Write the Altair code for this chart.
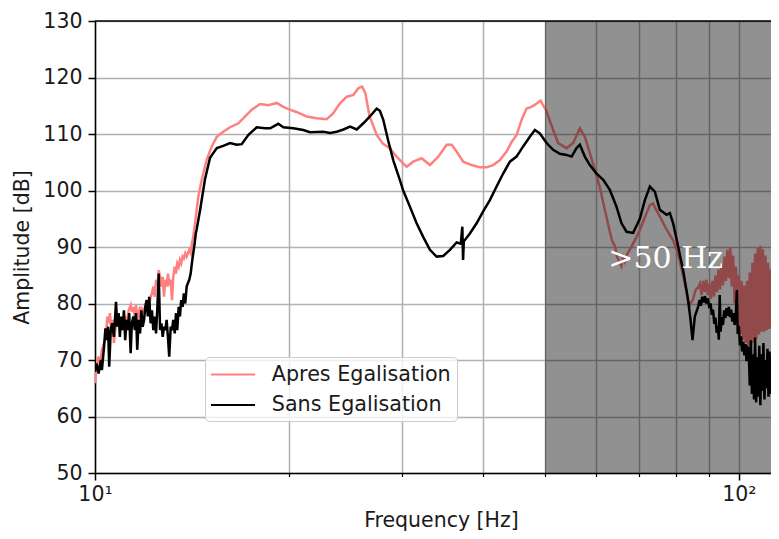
import altair as alt
import pandas as pd

# ---------------- data (Hz, dB) ----------------
sans_low = [
    (10.00, 67.9), (10.06, 69.4), (10.13, 67.6), (10.21, 70.0), (10.25, 68.2), (10.33, 72.4), (10.38, 75.6),
    (10.43, 73.5), (10.48, 75.9), (10.52, 68.8), (10.58, 75.3), (10.63, 76.5), (10.70, 74.1), (10.78, 80.3),
    (10.83, 75.9), (10.88, 78.3), (10.93, 74.1), (10.98, 77.7), (11.04, 75.3), (11.09, 78.8), (11.14, 73.5),
    (11.20, 77.1), (11.25, 75.3), (11.30, 78.3), (11.36, 71.2), (11.41, 76.5), (11.47, 77.7), (11.53, 75.3),
    (11.58, 78.3), (11.63, 71.8), (11.69, 77.1), (11.75, 74.7), (11.80, 78.8), (11.86, 75.9), (11.92, 77.1),
    (11.97, 79.4), (12.03, 80.6), (12.08, 77.7), (12.14, 81.2), (12.20, 76.5), (12.26, 78.8), (12.32, 75.3),
    (12.38, 77.7), (12.44, 74.7), (12.50, 79.4), (12.56, 85.3), (12.62, 75.3), (12.68, 76.5), (12.74, 74.1),
    (12.80, 75.9), (12.86, 75.3), (12.92, 77.1), (12.98, 74.1), (13.04, 70.6), (13.11, 75.9), (13.17, 75.3),
    (13.23, 77.1), (13.30, 74.7), (13.36, 78.3), (13.42, 75.3), (13.49, 79.4), (13.55, 77.7), (13.61, 80.6),
    (13.68, 79.4), (13.74, 81.8), (13.81, 80.0), (13.88, 83.0), (13.94, 83.6), (14.01, 84.2), (14.08, 85.3),
    (14.14, 87.1), (14.21, 88.9), (14.28, 90.6), (14.34, 92.4),
]
sans_mid = [
    (14.38, 93.0), (14.56, 96.5), (14.82, 102.0), (15.09, 105.8), (15.46, 107.5), (15.82, 107.9), (16.21, 108.4),
    (16.60, 108.1), (16.90, 108.2), (17.30, 109.8), (17.83, 111.2), (18.37, 111.0), (18.71, 111.0), (19.26, 111.8),
    (19.61, 111.2), (20.33, 111.0), (21.06, 110.7), (21.57, 110.3), (22.63, 110.4), (23.18, 110.2), (23.74, 110.4),
    (24.31, 110.8), (24.90, 111.3), (25.50, 110.8), (26.11, 111.9), (26.73, 113.1), (27.38, 114.5), (27.70, 114.1),
    (28.04, 112.5), (28.54, 108.8), (29.07, 105.3), (29.77, 101.8), (30.11, 100.0), (30.85, 97.1), (31.59, 94.2),
    (32.34, 91.8), (33.13, 89.5), (33.93, 88.3), (34.74, 88.4), (35.59, 89.5), (36.45, 90.8), (37.00, 90.6),
    (37.20, 93.6), (37.30, 87.7), (37.40, 91.0), (38.22, 92.4), (39.15, 94.2), (40.08, 96.3), (41.05, 98.3),
    (42.05, 100.7), (43.05, 103.0), (44.10, 105.1), (45.16, 106.0), (46.24, 107.8), (47.36, 109.5), (48.22, 110.7),
    (49.09, 110.1), (50.28, 108.4), (51.48, 107.2), (52.73, 106.5),
]
sans_high = [
    (54.00, 106.3), (55.00, 106.0), (55.97, 107.5), (56.64, 108.1), (57.66, 106.0), (58.70, 104.5), (60.12, 103.0),
    (61.57, 101.9), (63.05, 100.1), (64.58, 97.1), (65.74, 94.2), (66.93, 92.7), (68.53, 92.5), (70.19, 95.0),
    (71.46, 98.3), (72.75, 100.7), (74.06, 99.8), (75.39, 96.6), (77.22, 95.7), (78.14, 96.0), (79.07, 94.2),
    (80.49, 90.1), (81.94, 85.9), (83.42, 80.6), (84.14, 77.1), (84.74, 73.5), (85.44, 77.7), (86.45, 79.4),
    (86.9, 80.6), (87.3, 79.6), (87.7, 81.2), (88.1, 80.2), (88.6, 81.3), (89.0, 80.0), (89.5, 80.9), (90.0, 79.2),
    (90.4, 80.0), (90.8, 78.0), (91.2, 78.9), (91.6, 76.4), (92.0, 77.5), (92.4, 74.8), (92.8, 76.0), (93.1, 73.6),
    (93.4, 81.5), (93.7, 75.0), (94.1, 77.6), (94.5, 76.2), (94.9, 78.8), (95.3, 77.4), (95.7, 79.2), (96.1, 77.8),
    (96.5, 79.4), (96.9, 77.6), (97.3, 78.9), (97.7, 76.8), (98.1, 78.3), (98.5, 76.2), (98.9, 77.4), (99.3, 82.4),
    (99.6, 74.6), (100.0, 76.0), (100.4, 72.6), (100.8, 74.2), (101.2, 71.5), (101.6, 73.2), (102.0, 70.8),
    (102.4, 72.8), (102.8, 69.8), (103.2, 72.2),
]
sans_tail = [
    (103.6, 72.0), (104.0, 65.5), (104.4, 73.5), (104.8, 64.0), (105.2, 71.0), (105.6, 63.0), (106.0, 74.0),
    (106.4, 62.5), (106.8, 70.5), (107.2, 63.5), (107.6, 72.5), (108.0, 62.0), (108.4, 71.0), (108.8, 64.5),
    (109.2, 73.0), (109.6, 63.0), (110.0, 70.0), (110.4, 65.0), (110.8, 72.0), (111.2, 63.5), (111.6, 71.5),
    (112.0, 64.0), (112.4, 70.5), (112.8, 62.5), (113.2, 72.0), (113.6, 64.5), (114.0, 71.0), (114.4, 63.5),
    (114.8, 70.0), (115.2, 65.0), (115.6, 71.5), (116.0, 64.0),
]

apres_low = [
    (10.00, 65.9), (10.04, 68.2), (10.11, 70.6), (10.18, 69.4), (10.25, 71.8), (10.33, 73.0), (10.40, 74.1),
    (10.45, 77.7), (10.50, 76.5), (10.55, 78.3), (10.60, 75.3), (10.65, 77.1), (10.70, 73.0), (10.75, 75.3),
    (10.81, 77.1), (10.88, 77.7), (10.96, 76.5), (11.04, 75.3), (11.12, 77.7), (11.20, 76.5), (11.28, 78.8),
    (11.36, 79.7), (11.41, 78.5), (11.47, 79.4), (11.53, 77.7), (11.58, 79.7), (11.63, 77.1), (11.69, 78.3),
    (11.75, 79.4), (11.80, 75.9), (11.86, 78.8), (11.92, 78.3), (11.97, 80.0), (12.03, 78.3), (12.08, 80.6),
    (12.14, 79.4), (12.20, 81.2), (12.26, 81.8), (12.32, 83.0), (12.38, 81.2), (12.44, 84.2), (12.50, 83.0),
    (12.56, 85.9), (12.62, 84.7), (12.68, 83.0), (12.74, 84.7), (12.80, 81.2), (12.86, 84.2), (12.92, 83.0),
    (12.98, 85.3), (13.04, 83.6), (13.11, 84.2), (13.17, 80.6), (13.23, 84.7), (13.30, 86.5), (13.36, 85.3),
    (13.42, 87.1), (13.49, 86.5), (13.55, 87.7), (13.61, 87.1), (13.68, 88.3), (13.74, 88.0), (13.81, 88.9),
    (13.88, 88.3), (13.94, 88.9), (14.01, 89.5), (14.08, 88.9), (14.14, 90.6), (14.21, 91.8), (14.28, 93.6),
]
apres_mid = [
    (14.47, 98.9), (14.65, 101.9), (14.91, 105.4), (15.18, 107.8), (15.46, 109.5), (15.82, 110.4), (16.21, 111.2),
    (16.70, 111.9), (17.11, 113.1), (17.52, 114.3), (18.05, 115.3), (18.59, 115.1), (19.15, 115.5), (19.61, 114.8),
    (20.07, 114.3), (20.55, 113.9), (21.31, 113.1), (22.10, 112.8), (22.89, 112.6), (23.45, 113.7), (24.00, 115.4),
    (24.60, 116.6), (25.20, 116.9), (25.64, 118.1), (26.00, 118.4), (26.30, 117.2), (26.70, 113.1), (27.40, 109.8),
    (28.00, 108.3), (28.70, 107.5), (29.40, 106.0), (30.48, 104.2), (31.21, 105.1), (32.16, 105.7), (33.13, 104.5),
    (34.13, 106.0), (35.17, 108.1), (35.81, 108.1), (36.45, 106.9), (37.32, 105.1), (38.46, 104.5), (39.62, 104.1),
    (40.58, 104.1), (41.54, 104.5), (42.55, 105.4), (43.58, 106.9), (44.37, 108.6), (45.16, 109.8), (45.98, 112.5),
    (46.81, 114.5), (47.65, 114.8), (48.53, 115.4), (49.22, 115.9), (50.28, 114.0), (51.48, 110.7), (52.41, 108.4),
]
apres_high = [
    (54.00, 107.5), (55.30, 108.4), (56.64, 111.0), (57.66, 109.5), (58.70, 106.6), (59.76, 103.6), (60.80, 100.7),
    (61.93, 96.6), (63.05, 92.7), (63.60, 91.0), (64.19, 90.2), (64.70, 88.3), (65.30, 87.3), (65.70, 86.6),
    (66.10, 88.2), (66.53, 87.4), (67.10, 88.8), (67.70, 89.5), (68.50, 90.6), (69.37, 91.8), (70.19, 93.0),
    (71.03, 94.5), (71.90, 96.0), (72.75, 97.4), (73.60, 97.7), (74.06, 97.0), (75.40, 95.4), (76.50, 94.0),
    (77.70, 92.6), (79.07, 91.2), (80.00, 89.6), (80.90, 87.7), (81.90, 85.0), (82.80, 82.4), (83.70, 79.4),
    (84.30, 80.2), (84.80, 80.6), (85.70, 82.4), (86.40, 82.8),
]
apres_tail = [
    (87.0, 83.5), (87.5, 81.5), (88.0, 84.0), (88.5, 82.0), (89.0, 84.2), (89.5, 81.5), (90.0, 83.5), (90.5, 80.8),
    (91.0, 84.0), (91.5, 81.2), (92.0, 85.0), (92.5, 82.0), (93.0, 86.0), (93.5, 82.5), (94.0, 87.0), (94.5, 83.2),
    (95.0, 88.3), (95.5, 84.0), (96.0, 89.5), (96.5, 84.5), (97.0, 90.0), (97.5, 83.0), (98.0, 88.5), (98.5, 80.0),
    (99.0, 86.5), (99.5, 76.0), (100.0, 85.0), (100.5, 74.5), (101.0, 84.0), (101.5, 73.5), (102.0, 83.2),
    (102.5, 73.0), (103.0, 84.0), (103.5, 72.4), (104.0, 85.5), (104.5, 72.6), (105.0, 87.2), (105.5, 73.0),
    (106.0, 88.8), (106.5, 73.8), (107.0, 89.8), (107.5, 74.5), (108.0, 90.2), (108.5, 75.0), (109.0, 89.6),
    (109.5, 75.0), (110.0, 88.5), (110.5, 75.3), (111.0, 87.2), (111.5, 75.5), (112.0, 86.0), (112.5, 75.8),
    (113.0, 85.0), (113.5, 76.0), (114.0, 84.0), (114.5, 76.2), (115.0, 83.2), (115.5, 76.5), (116.0, 82.8),
]

series_names = ["Apres Egalisation", "Sans Egalisation"]
series_colors = ["#ff8080", "#000000"]
x_ticks = [10, 20, 30, 40, 50, 60, 70, 80, 90, 100]
y_ticks = [50, 60, 70, 80, 90, 100, 110, 120, 130]
x_domain = [10, 112.2]
y_domain = [50, 130]
shade_span = [50, 112.2]
annotation = [{"f": 77.0, "A": 86.3, "label": ">50 Hz"}]

# ---------------- tables ----------------
rows = []
for f, a in apres_low + apres_mid + apres_high + apres_tail:
    rows.append({"f": f, "A": a, "serie": series_names[0]})
for f, a in sans_low + sans_mid + sans_high + sans_tail:
    rows.append({"f": f, "A": a, "serie": series_names[1]})
df = pd.DataFrame(rows)
shade_df = pd.DataFrame({"f": [shade_span[0]], "f2": [shade_span[1]]})
top_df = pd.DataFrame({"A": [y_domain[1]]})
ann_df = pd.DataFrame(annotation)

FONT = "DejaVu Sans"
TXT = "#1a1a1a"
FS = 20.5

x_scale = alt.Scale(type="log", domain=x_domain, nice=False)
y_scale = alt.Scale(domain=y_domain, nice=False, zero=False)

major = "datum.value == 10 || datum.value == 100"
x_axis = alt.Axis(
    values=x_ticks,
    labelExpr="datum.value == 10 ? '10\u00b9' : (datum.value == 100 ? '10\u00b2' : '')",
    labelFlush=False, labelOverlap=False,
    grid=True, gridColor="#b0b0b0", gridWidth=1.5,
    tickSize={"condition": {"test": major, "value": 7}, "value": 3.5},
    tickWidth={"condition": {"test": major, "value": 1.5}, "value": 1.2},
    tickColor="black",
    domainColor="black", domainWidth=1.5,
    labelFont=FONT, labelFontSize=FS, labelColor=TXT, labelPadding=4,
    title="Frequency [Hz]", titleFont=FONT, titleFontSize=FS, titleFontWeight="normal",
    titleColor=TXT, titleX=346, titleY=53, titleAlign="center", titleBaseline="alphabetic",
)
y_axis = alt.Axis(
    values=y_ticks,
    grid=True, gridColor="#b0b0b0", gridWidth=1.5,
    tickSize=7, tickWidth=1.5, tickColor="black",
    domainColor="black", domainWidth=1.5,
    labelFont=FONT, labelFontSize=FS, labelColor=TXT, labelPadding=6,
    title="Amplitude [dB]", titleFont=FONT, titleFontSize=FS, titleFontWeight="normal",
    titleColor=TXT, titleX=-73, titleY=226, titleAngle=-90, titleAlign="center",
    titleBaseline="middle",
)

legend = alt.Legend(
    title=None, orient="none", legendX=110, legendY=336,
    symbolType="M-2.1,0H2.1", symbolSize=441, symbolStrokeWidth=2, symbolOffset=10.5,
    labelOffset=27.3, labelFont=FONT, labelFontSize=20.7, labelColor=TXT, labelLimit=400,
    padding=6, rowPadding=8.5, strokeColor="#cccccc", fillColor="rgba(255,255,255,0.8)",
    cornerRadius=4,
)

lines = alt.Chart(df).mark_line(strokeWidth=2.5, clip=True).encode(
    x=alt.X("f:Q", scale=x_scale, axis=x_axis),
    y=alt.Y("A:Q", scale=y_scale, axis=y_axis),
    color=alt.Color("serie:N", scale=alt.Scale(domain=series_names, range=series_colors), legend=legend),
)

shade = alt.Chart(shade_df).mark_rect(color="black", opacity=0.43, clip=True).encode(
    x=alt.X("f:Q", scale=x_scale, axis=x_axis),
    x2="f2:Q",
)

top_spine = alt.Chart(top_df).mark_rule(color="black", strokeWidth=1.5).encode(
    y=alt.Y("A:Q", scale=y_scale, axis=y_axis),
)

label = alt.Chart(ann_df).mark_text(
    font="DejaVu Serif", fontSize=30, color="white", align="center", baseline="alphabetic"
).encode(
    x=alt.X("f:Q", scale=x_scale, axis=x_axis),
    y=alt.Y("A:Q", scale=y_scale, axis=y_axis),
    text="label:N",
)

chart = alt.layer(lines, shade, top_spine, label).properties(
    width=676, height=452,
    autosize=alt.AutoSizeParams(type="none"),
    padding={"left": 87, "top": 13, "right": 0, "bottom": 58},
    background="white",
).configure_view(stroke=None)

chart.save("out.html", embed_options={"renderer": "svg", "actions": False})
